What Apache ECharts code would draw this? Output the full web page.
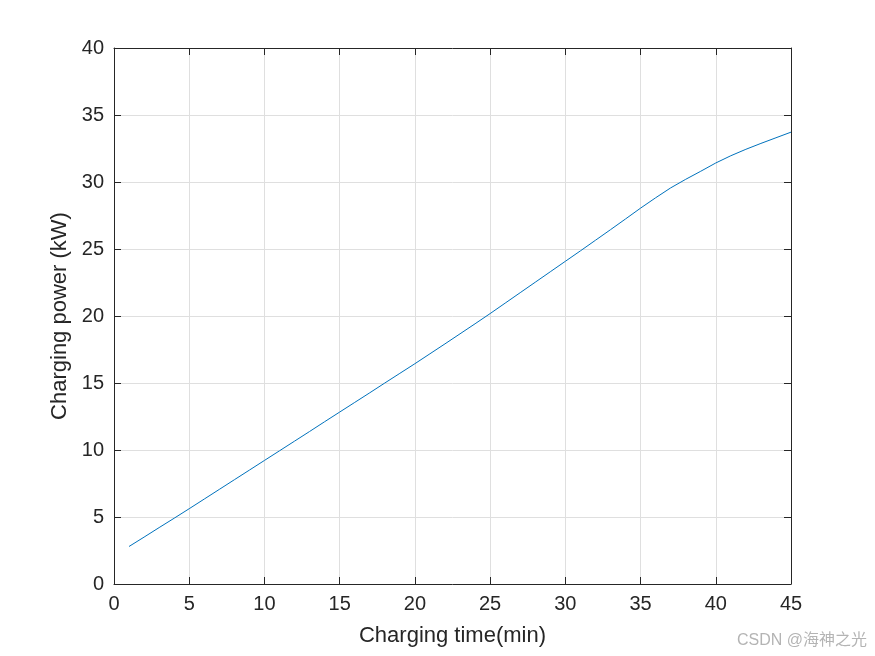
<!DOCTYPE html>
<html>
<head>
<meta charset="utf-8">
<script src="https://cdn.jsdelivr.net/npm/echarts@6/dist/echarts.min.js"></script>
<style>
  html, body { margin: 0; padding: 0; background: #fff; }
  #chart { width: 875px; height: 656px; }
</style>
</head>
<body>
<div id="chart"></div>
<script>
// charging time (min)
const timeMin = [1, 2, 3, 4, 5, 6, 7, 8, 9, 10,
  11, 12, 13, 14, 15, 16, 17, 18, 19, 20,
  21, 22, 23, 24, 25, 26, 27, 28, 29, 30,
  31, 32, 33, 34, 35, 36, 37, 38, 39, 40,
  41, 42, 43, 44, 45];
// charging power (kW)
const powerKW = [2.80, 3.50, 4.21, 4.91, 5.62, 6.34, 7.06, 7.78, 8.50, 9.22,
  9.94, 10.66, 11.38, 12.11, 12.83, 13.55, 14.27, 15.00, 15.72, 16.44,
  17.18, 17.92, 18.67, 19.42, 20.18, 20.96, 21.74, 22.52, 23.30, 24.08,
  24.86, 25.65, 26.44, 27.24, 28.05, 28.82, 29.56, 30.20, 30.80, 31.42,
  31.96, 32.44, 32.88, 33.30, 33.72];

const axisColor = '#262626';
const fontFamily = '"Liberation Sans", Arial, sans-serif';

const chart = echarts.init(document.getElementById('chart'));

// 外框：上/右两条轴只画刻度，不画标签
const boxAxis = {
  min: 0,
  interval: 5,
  axisLine: { show: true, onZero: false, lineStyle: { color: axisColor, width: 1 } },
  axisTick: { show: true, inside: true, length: 7, lineStyle: { color: axisColor } },
  axisLabel: { show: false },
  splitLine: { show: false }
};

const option = {
  backgroundColor: '#fff',
  animation: false,
  grid: { left: 114, top: 48, right: 84, bottom: 72 },
  xAxis: [
    {
      type: 'value',
      min: 0, max: 45, interval: 5,
      name: 'Charging time(min)',
      nameLocation: 'middle',
      nameGap: 41,
      nameTextStyle: { color: axisColor, fontSize: 22, fontFamily },
      axisLine: { show: true, onZero: false, lineStyle: { color: axisColor, width: 1 } },
      axisTick: { show: true, inside: true, length: 7, lineStyle: { color: axisColor } },
      axisLabel: { color: axisColor, fontSize: 20, fontFamily, margin: 10 },
      splitLine: { show: true, lineStyle: { color: '#dfdfdf', width: 1 } }
    },
    Object.assign({ type: 'value', position: 'top', max: 45 }, boxAxis)
  ],
  yAxis: [
    {
      type: 'value',
      min: 0, max: 40, interval: 5,
      name: 'Charging power (kW)',
      nameLocation: 'middle',
      nameGap: 40,
      nameTextStyle: { color: axisColor, fontSize: 22, fontFamily },
      axisLine: { show: true, onZero: false, lineStyle: { color: axisColor, width: 1 } },
      axisTick: { show: true, inside: true, length: 7, lineStyle: { color: axisColor } },
      axisLabel: { color: axisColor, fontSize: 20, fontFamily, margin: 10 },
      splitLine: { show: true, lineStyle: { color: '#dfdfdf', width: 1 } }
    },
    Object.assign({ type: 'value', position: 'right', max: 40 }, boxAxis)
  ],
  series: [
    {
      type: 'line',
      data: timeMin.map((t, i) => [t, powerKW[i]]),
      showSymbol: false,
      lineStyle: { color: '#0072BD', width: 1 },
      silent: true
    }
  ],
  graphic: [
    {
      type: 'text',
      right: 8,
      bottom: 7,
      style: { text: 'CSDN @海神之光', fill: '#b4b4b4', fontSize: 16, fontFamily: '"Liberation Sans", "Noto Sans CJK SC", sans-serif' }
    }
  ]
};

chart.setOption(option);
</script>
</body>
</html>
